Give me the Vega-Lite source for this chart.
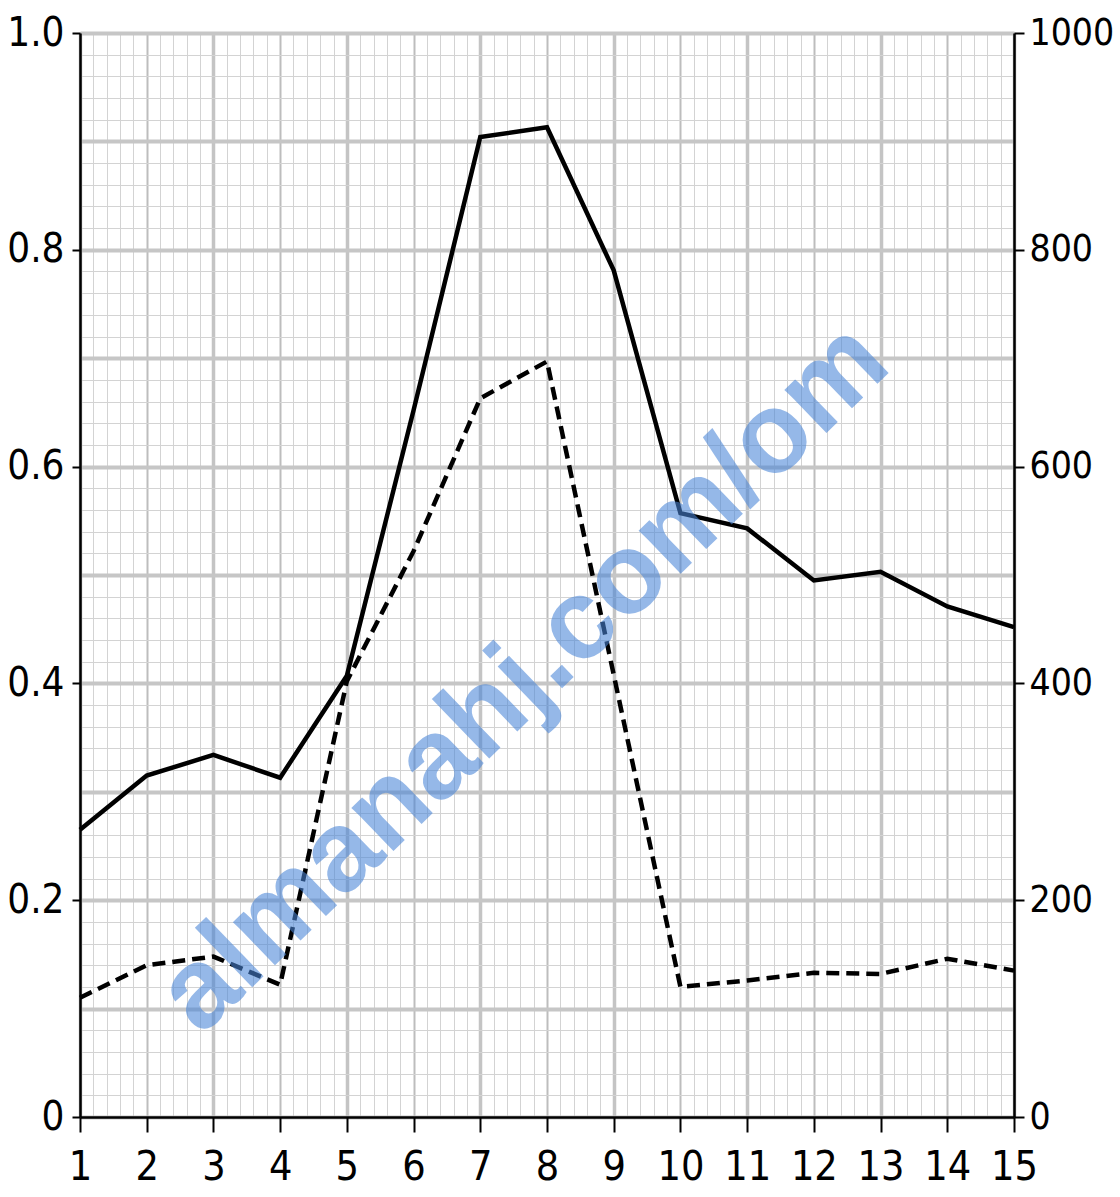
{
  "$schema": "https://vega.github.io/schema/vega-lite/v6.json",
  "width": 934,
  "height": 1084,
  "autosize": {"type": "none"},
  "padding": {"left": 80, "top": 33, "right": 106, "bottom": 80},
  "background": "white",
  "config": {"view": {"stroke": null}},
  "datasets": {
    "series": [
      {"x": 1, "v": 0.265, "s": "solid"},
      {"x": 2, "v": 0.315, "s": "solid"},
      {"x": 3, "v": 0.334, "s": "solid"},
      {"x": 4, "v": 0.313, "s": "solid"},
      {"x": 5, "v": 0.407, "s": "solid"},
      {"x": 6, "v": 0.652, "s": "solid"},
      {"x": 7, "v": 0.904, "s": "solid"},
      {"x": 8, "v": 0.913, "s": "solid"},
      {"x": 9, "v": 0.781, "s": "solid"},
      {"x": 10, "v": 0.557, "s": "solid"},
      {"x": 11, "v": 0.543, "s": "solid"},
      {"x": 12, "v": 0.495, "s": "solid"},
      {"x": 13, "v": 0.503, "s": "solid"},
      {"x": 14, "v": 0.471, "s": "solid"},
      {"x": 15, "v": 0.452, "s": "solid"},
      {"x": 1, "v": 0.11, "s": "dashed"},
      {"x": 2, "v": 0.14, "s": "dashed"},
      {"x": 3, "v": 0.148, "s": "dashed"},
      {"x": 4, "v": 0.122, "s": "dashed"},
      {"x": 5, "v": 0.402, "s": "dashed"},
      {"x": 6, "v": 0.522, "s": "dashed"},
      {"x": 7, "v": 0.663, "s": "dashed"},
      {"x": 8, "v": 0.697, "s": "dashed"},
      {"x": 9, "v": 0.408, "s": "dashed"},
      {"x": 10, "v": 0.12, "s": "dashed"},
      {"x": 11, "v": 0.126, "s": "dashed"},
      {"x": 12, "v": 0.133, "s": "dashed"},
      {"x": 13, "v": 0.132, "s": "dashed"},
      {"x": 14, "v": 0.146, "s": "dashed"},
      {"x": 15, "v": 0.135, "s": "dashed"}
    ],
    "mark": [
      {"x": 7.65, "v": 0.405, "label": "almanahj.com/om"}
    ]
  },
  "layer": [
    {
      "data": {"name": "series"},
      "transform": [{"filter": "datum.s == 'solid'"}],
      "mark": {"type": "line", "color": "black", "strokeWidth": 4.5, "strokeJoin": "miter", "clip": false},
      "encoding": {
        "x": {
          "field": "x", "type": "quantitative",
          "scale": {"domain": [1, 15], "nice": false, "zero": false},
          "axis": {
            "orient": "bottom",
            "title": null,
            "values": [1,1.2,1.4,1.6,1.8,2,2.2,2.4,2.6,2.8,3,3.2,3.4,3.6,3.8,4,4.2,4.4,4.6,4.8,5,5.2,5.4,5.6,5.8,6,6.2,6.4,6.6,6.8,7,7.2,7.4,7.6,7.8,8,8.2,8.4,8.6,8.8,9,9.2,9.4,9.6,9.8,10,10.2,10.4,10.6,10.8,11,11.2,11.4,11.6,11.8,12,12.2,12.4,12.6,12.8,13,13.2,13.4,13.6,13.8,14,14.2,14.4,14.6,14.8,15],
            "labelExpr": "abs(datum.value - round(datum.value)) < 0.01 ? format(datum.value, 'd') : ''",
            "labelOverlap": false,
            "labelFont": "DejaVu Sans Condensed",
            "labelFontSize": 41,
            "labelColor": "black",
            "labelPadding": 15,
            "labelFlush": false,
            "tickColor": "black",
            "tickWidth": 2,
            "tickSize": 15,
            "tickOpacity": {"condition": {"test": "abs(datum.value - round(datum.value)) < 0.01", "value": 1}, "value": 0},
            "domainColor": "black",
            "domainWidth": 2.5,
            "grid": true,
            "gridWidth": {"condition": [
              {"test": "abs(datum.value - round(datum.value)) < 0.01 && round(datum.value) % 2 == 1", "value": 3.5},
              {"test": "abs(datum.value - round(datum.value)) < 0.01", "value": 2}
            ], "value": 1},
            "gridColor": {"condition": [
              {"test": "abs(datum.value - round(datum.value)) < 0.01 && round(datum.value) % 2 == 1", "value": "#c4c4c4"},
              {"test": "abs(datum.value - round(datum.value)) < 0.01", "value": "#bdbdbd"}
            ], "value": "#d3d3d3"},
            "gridOpacity": 1
          }
        },
        "y": {
          "field": "v", "type": "quantitative",
          "scale": {"domain": [0, 1], "nice": false, "zero": true},
          "axis": {
            "orient": "left",
            "title": null,
            "values": [0,0.02,0.04,0.06,0.08,0.1,0.12,0.14,0.16,0.18,0.2,0.22,0.24,0.26,0.28,0.3,0.32,0.34,0.36,0.38,0.4,0.42,0.44,0.46,0.48,0.5,0.52,0.54,0.56,0.58,0.6,0.62,0.64,0.66,0.68,0.7,0.72,0.74,0.76,0.78,0.8,0.82,0.84,0.86,0.88,0.9,0.92,0.94,0.96,0.98,1],
            "labelExpr": "round(datum.value*100) % 20 == 0 ? (datum.value == 0 ? '0' : format(datum.value, '.1f')) : ''",
            "labelOverlap": false,
            "labelFont": "DejaVu Sans Condensed",
            "labelFontSize": 40,
            "labelColor": "black",
            "labelPadding": 8,
            "labelFlush": false,
            "tickColor": "black",
            "tickWidth": 2,
            "tickSize": 8,
            "tickOpacity": {"condition": {"test": "round(datum.value*100) % 20 == 0", "value": 1}, "value": 0},
            "domainColor": "black",
            "domainWidth": 2.5,
            "grid": true,
            "gridWidth": {"condition": {"test": "round(datum.value*100) % 10 == 0", "value": 4}, "value": 1},
            "gridColor": {"condition": {"test": "round(datum.value*100) % 10 == 0", "value": "#c6c6c6"}, "value": "#d3d3d3"},
            "gridOpacity": 1
          }
        }
      }
    },
    {
      "data": {"name": "series"},
      "transform": [{"filter": "datum.s == 'dashed'"}],
      "mark": {"type": "line", "color": "black", "strokeWidth": 4.5, "strokeDash": [13, 7], "clip": false},
      "encoding": {
        "x": {"field": "x", "type": "quantitative", "axis": null},
        "y": {
          "field": "v", "type": "quantitative",
          "axis": {
            "orient": "right",
            "title": null,
            "values": [0, 0.2, 0.4, 0.6, 0.8, 1],
            "labelExpr": "format(datum.value*1000, 'd')",
            "labelOverlap": false,
            "labelFont": "DejaVu Sans Condensed",
            "labelFontSize": 37,
            "labelColor": "black",
            "labelPadding": 5,
            "labelFlush": false,
            "tickColor": "black",
            "tickWidth": 2,
            "tickSize": 10,
            "domainColor": "black",
            "domainWidth": 2.5,
            "grid": false
          }
        }
      }
    },
    {
      "data": {"name": "mark"},
      "mark": {"type": "text", "font": "Liberation Sans", "fontWeight": "bold", "fontSize": 114, "angle": -44, "align": "center", "baseline": "middle", "color": "#4a86d8", "opacity": 0.58},
      "encoding": {
        "x": {"field": "x", "type": "quantitative", "axis": null},
        "y": {"field": "v", "type": "quantitative", "axis": null},
        "text": {"field": "label"}
      }
    }
  ],
  "resolve": {"axis": {"x": "independent", "y": "independent"}}
}
